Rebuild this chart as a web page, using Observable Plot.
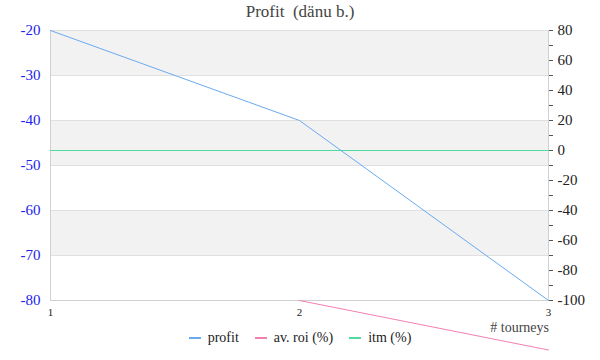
<!DOCTYPE html>
<html><head><meta charset="utf-8">
<script src="https://cdn.jsdelivr.net/npm/d3@7"></script>
<script src="https://cdn.jsdelivr.net/npm/@observablehq/plot@0.6"></script>
<style>
body{margin:0;background:#fff;}
#wrap{position:relative;width:600px;height:360px;font-family:"Liberation Serif","DejaVu Serif",serif;}
#title{position:absolute;top:2px;left:0;width:600px;text-align:center;font-size:17px;color:#444;}
#xlab{position:absolute;top:320px;left:440px;width:109px;text-align:right;font-size:14px;color:#444;}
#legend{position:absolute;top:330px;left:0;width:600px;display:flex;justify-content:center;gap:16px;font-size:14px;color:#222;}
#legend span.it{display:flex;align-items:center;gap:7px;}
#legend i{display:inline-block;width:12px;height:2px;}
</style></head>
<body><div id="wrap"><div id="title">Profit&nbsp; (dänu b.)</div><div id="chart"></div><div id="xlab"># tourneys</div><div id="legend"></div></div>
<script>
const tourneys = [1, 2, 3];
const profit = [-20, -40, -80];
const roiX = [2, 3];
const avRoi = [-100, -133];
const itm = [0, 0, 0];
const leftTicks = [-80, -70, -60, -50, -40, -30, -20];
const rightTicks = [80, 60, 40, 20, 0, -20, -40, -60, -80, -100];
const rightMinor = d3.range(-100, 81, 10);
const bands = [[-30, -20], [-50, -40], [-70, -60]];
const seriesNames = ["profit", "av. roi (%)", "itm (%)"];
const seriesColors = ["#6aaaf0", "#f27fb2", "#4fdc9e"];
const FF = "'Liberation Serif', 'DejaVu Serif', serif";

// map right-axis value onto the left scale
const toLeft = v => -80 + (v + 100) * 60 / 180;
const fromLeft = y => String(Math.round((y + 80) * 180 / 60 - 100));

const profitData = tourneys.map((t, i) => ({t, v: profit[i]}));
const roiData = roiX.map((t, i) => ({t, v: toLeft(avRoi[i])}));
const itmData = tourneys.map((t, i) => ({t, v: toLeft(itm[i])}));

const chart = Plot.plot({
  width: 600, height: 360,
  marginTop: 30, marginBottom: 60, marginLeft: 50, marginRight: 52,
  style: {fontFamily: FF},
  x: {domain: [1, 3]},
  y: {domain: [-80, -20]},
  marks: [
    Plot.rectY(bands, {x1: 1, x2: 3, y1: d => d[0], y2: d => d[1], fill: "#f2f2f2"}),
    Plot.ruleY(leftTicks, {stroke: "#e0e0e0"}),
    Plot.ruleX([1, 3], {stroke: "#d0d0d0"}),
    Plot.ruleY([-80], {stroke: "#d0d0d0"}),
    Plot.axisY(leftTicks, {anchor: "left", tickSize: 0, tickPadding: 10, tickFormat: d => String(d), fill: "#2222ee", fontSize: 15, fontFamily: FF, label: null}),
    Plot.axisY(rightMinor.map(toLeft), {anchor: "right", tickSize: 4, tickPadding: 0, text: null, stroke: "#555", label: null}),
    Plot.axisY(rightTicks.map(toLeft), {anchor: "right", tickSize: 0, tickPadding: 9, tickFormat: fromLeft, fill: "#222", fontSize: 15, fontFamily: FF, label: null}),
    Plot.axisX(tourneys, {tickSize: 0, tickPadding: 8, fontSize: 11, fontFamily: FF, tickFormat: d => String(d), fill: "#222", label: null}),
    Plot.line(itmData, {x: "t", y: "v", stroke: seriesColors[2], strokeWidth: 1.2}),
    Plot.line(profitData, {x: "t", y: "v", stroke: seriesColors[0], strokeWidth: 1}),
    Plot.line(roiData, {x: "t", y: "v", stroke: seriesColors[1], strokeWidth: 1})
  ]
});
document.getElementById("chart").appendChild(chart);
const lg = document.getElementById("legend");
seriesNames.forEach((n, i) => {
  const s = document.createElement("span"); s.className = "it";
  s.innerHTML = `<i style="background:${seriesColors[i]}"></i>${n}`;
  lg.appendChild(s);
});
</script></body></html>
